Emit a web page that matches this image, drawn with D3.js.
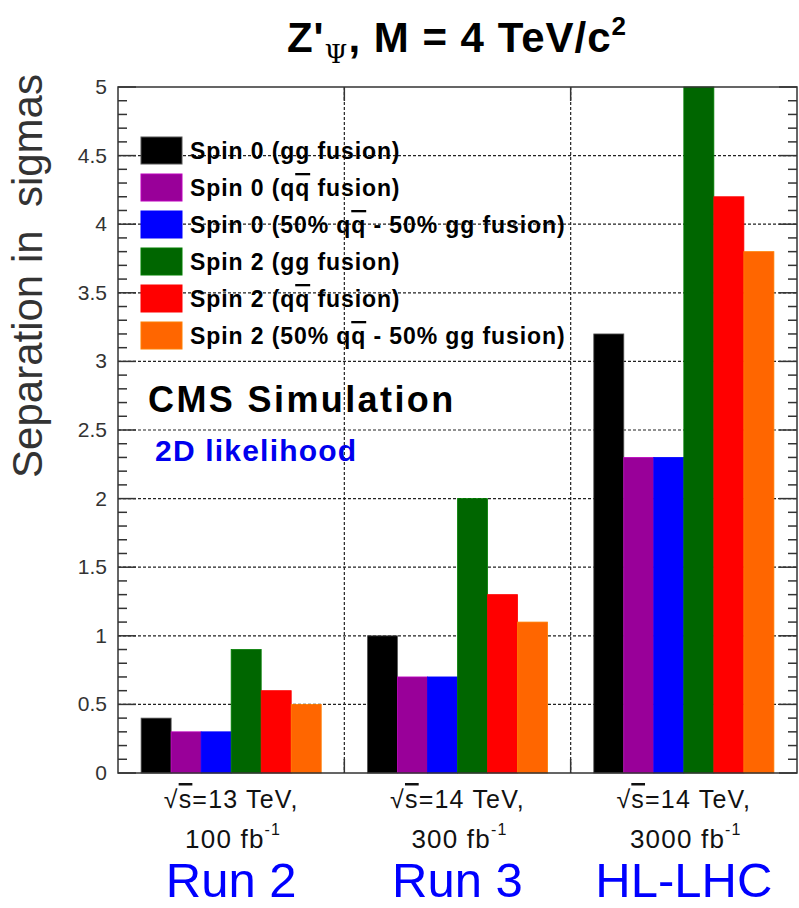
<!DOCTYPE html>
<html>
<meta charset="utf-8">
<head>
    <title>Z' spin separation</title>
    <script src="https://d3js.org/d3.v7.min.js"></script>
    <style>
    body { margin: 0; background: white; }
    text { font-family: "Liberation Sans", Arial, sans-serif; }
    </style>
</head>
<body>
<script>

// Data
var groups = ["Run 2", "Run 3", "HL-LHC"];
var energyLabels = ["=13 TeV,", "=14 TeV,", "=14 TeV,"];
var lumiLabels = ["100 fb", "300 fb", "3000 fb"];
var series = ["s0gg", "s0qq", "s0mix", "s2gg", "s2qq", "s2mix"];
var seriesColors = ["#000000", "#990099", "#0000ff", "#006600", "#ff0000", "#ff6600"];
var spin0gg = [0.4, 1.0, 3.2];
var spin0qq = [0.3, 0.7, 2.3];
var spin0mix = [0.3, 0.7, 2.3];
var spin2gg = [0.9, 2.0, 5.0];
var spin2qq = [0.6, 1.3, 4.2];
var spin2mix = [0.5, 1.1, 3.8];
var yTicks = [0, 0.5, 1, 1.5, 2, 2.5, 3, 3.5, 4, 4.5, 5];

var values = [spin0gg, spin0qq, spin0mix, spin2gg, spin2qq, spin2mix];

var width = 799, height = 908;
var padL = 118, padR = 797, padT = 87, padB = 773;

var svg = d3.select("body").append("svg")
    .attr("width", width)
    .attr("height", height);

var x = d3.scaleBand().domain(groups).range([padL, padR]).padding(0);
var xs = d3.scaleBand().domain(series).range([0, x.bandwidth()])
    .paddingInner(0).paddingOuter(0.77);
var y = d3.scaleLinear().domain([0, 5]).range([padB, padT]);

// grid
var grid = svg.append("g");
grid.selectAll("line.h")
    .data(yTicks.slice(1, -1))
    .enter().append("line")
    .attr("x1", padL).attr("x2", padR)
    .attr("y1", function(d) { return y(d); })
    .attr("y2", function(d) { return y(d); })
    .attr("stroke", "#222").attr("stroke-width", 1.2)
    .attr("stroke-dasharray", "3,2");
grid.selectAll("line.v")
    .data(groups.slice(1))
    .enter().append("line")
    .attr("x1", function(d) { return x(d); })
    .attr("x2", function(d) { return x(d); })
    .attr("y1", padT).attr("y2", padB)
    .attr("stroke", "#222").attr("stroke-width", 1.2)
    .attr("stroke-dasharray", "3,2");

// bars
var bars = [];
groups.forEach(function(g, gi) {
    series.forEach(function(s, si) {
        bars.push({ group: g, key: s, value: values[si][gi], color: seriesColors[si] });
    });
});
svg.append("g").selectAll("rect")
    .data(bars)
    .enter().append("rect")
    .attr("x", function(d) { return x(d.group) + xs(d.key); })
    .attr("width", xs.bandwidth())
    .attr("y", function(d) { return y(d.value); })
    .attr("height", function(d) { return y(0) - y(d.value); })
    .attr("fill", function(d) { return d.color; })
    .attr("stroke", function(d) { return d.color === "#000000" ? "#555" : d3.color(d.color).brighter(0.6); })
    .attr("stroke-width", 0.8);

// frame
svg.append("rect")
    .attr("x", padL).attr("y", padT)
    .attr("width", padR - padL).attr("height", padB - padT)
    .attr("fill", "none").attr("stroke", "#333").attr("stroke-width", 1.5);

// y axis ticks, left and right
var minor = d3.range(0, 5.001, 0.1);
var ticks = svg.append("g").attr("stroke", "#333").attr("stroke-width", 1.5);
minor.forEach(function(v) {
    var major = Math.abs(v * 2 - Math.round(v * 2)) < 1e-6;
    var len = major ? 18 : 9;
    ticks.append("line")
        .attr("x1", padL).attr("x2", padL + len)
        .attr("y1", y(v)).attr("y2", y(v));
    ticks.append("line")
        .attr("x1", padR).attr("x2", padR - len)
        .attr("y1", y(v)).attr("y2", y(v));
});
// x ticks at group edges, top and bottom
groups.slice(1).forEach(function(g) {
    ticks.append("line")
        .attr("x1", x(g)).attr("x2", x(g))
        .attr("y1", padB).attr("y2", padB - 14);
    ticks.append("line")
        .attr("x1", x(g)).attr("x2", x(g))
        .attr("y1", padT).attr("y2", padT + 14);
});

svg.append("g").selectAll("text")
    .data(yTicks)
    .enter().append("text")
    .attr("x", padL - 11)
    .attr("y", function(d) { return y(d) + 7; })
    .attr("text-anchor", "end")
    .attr("font-size", 21)
    .attr("fill", "#333")
    .text(function(d) { return d; });

// y title
svg.append("text")
    .attr("transform", "translate(42,276) rotate(-90)")
    .attr("text-anchor", "middle")
    .attr("font-size", 42)
    .attr("fill", "#333")
    .attr("xml:space", "preserve")
    .text("Separation in  sigmas");

// title
var title = svg.append("text")
    .attr("x", 457).attr("y", 52)
    .attr("text-anchor", "middle")
    .attr("font-size", 42)
    .attr("letter-spacing", 1)
    .attr("font-weight", "bold");
title.append("tspan").text("Z'");
title.append("tspan").attr("font-family", "DejaVu Serif, serif").attr("font-weight", "normal")
    .attr("font-size", 26).attr("dy", 11).text("\u03a8");
title.append("tspan").attr("dy", -11).text(", M = 4 TeV/c");
title.append("tspan").attr("font-size", 26).attr("dy", -17).text("2");

// legend
var legendLabels = [
    ["Spin 0 (gg fusion)"],
    ["Spin 0 (", "qq", " fusion)"],
    ["Spin 0 (50% ", "qq", " - 50% gg fusion)"],
    ["Spin 2 (gg fusion)"],
    ["Spin 2 (", "qq", " fusion)"],
    ["Spin 2 (50% ", "qq", " - 50% gg fusion)"]
];
var legend = svg.append("g");
legendLabels.forEach(function(parts, i) {
    var ly = 137 + i * 37;
    legend.append("rect")
        .attr("x", 141).attr("y", ly)
        .attr("width", 41).attr("height", 27)
        .attr("fill", seriesColors[i])
        .attr("stroke", i === 0 ? "#555" : d3.color(seriesColors[i]).brighter(0.6));
    var t = legend.append("text")
        .attr("x", 190).attr("y", ly + 22)
        .attr("font-size", 23)
        .attr("font-weight", "bold")
        .attr("letter-spacing", 0.9)
        .attr("xml:space", "preserve");
    parts.forEach(function(p, k) {
        t.append("tspan").text(k === 1 ? "q" : p);
        if (k === 1) {
            t.append("tspan").style("text-decoration", "overline").text("q");
        }
    });
});

svg.append("text")
    .attr("x", 148).attr("y", 412)
    .attr("font-size", 36).attr("font-weight", "bold")
    .attr("letter-spacing", 2.4)
    .text("CMS Simulation");
svg.append("text")
    .attr("x", 155).attr("y", 461)
    .attr("font-size", 30).attr("font-weight", "bold")
    .attr("letter-spacing", 1.2)
    .attr("fill", "#0000ee")
    .text("2D likelihood");

// x labels
var xl = svg.append("g");
groups.forEach(function(g, i) {
    var cx = x(g) + x.bandwidth() / 2;
    var t1 = xl.append("text")
        .attr("x", cx).attr("y", 808)
        .attr("text-anchor", "middle")
        .attr("font-size", 25)
        .attr("letter-spacing", 1.2)
        .attr("fill", "#111");
    t1.append("tspan").text("\u221a");
    t1.append("tspan").style("text-decoration", "overline").text("s");
    t1.append("tspan").text(energyLabels[i]);
    var t2 = xl.append("text")
        .attr("x", cx + 2).attr("y", 848)
        .attr("text-anchor", "middle")
        .attr("font-size", 26)
        .attr("letter-spacing", 1.2)
        .attr("fill", "#111");
    t2.append("tspan").text(lumiLabels[i]);
    t2.append("tspan").attr("font-size", 16).attr("dy", -13).text("-1");
    xl.append("text")
        .attr("x", cx).attr("y", 897)
        .attr("text-anchor", "middle")
        .attr("font-size", 49)
        .attr("fill", "#0000ff")
        .text(g);
});

</script>
</body>
</html>
